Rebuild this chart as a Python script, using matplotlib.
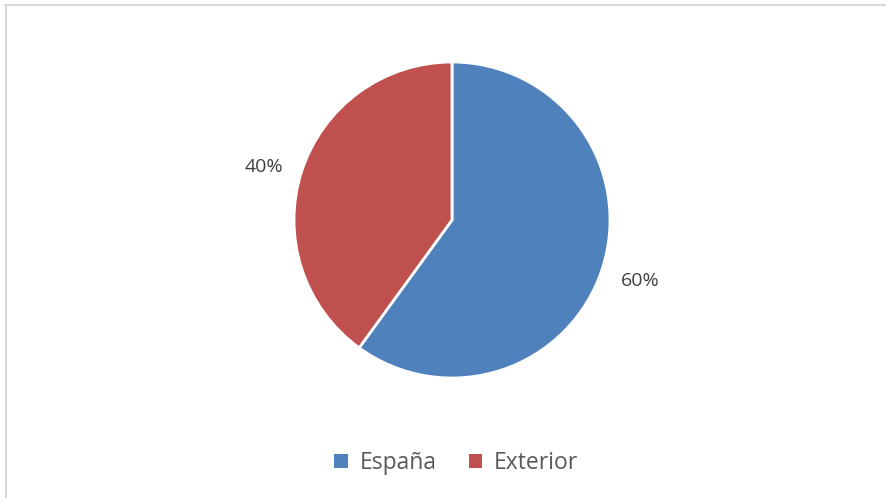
import matplotlib.pyplot as plt
from matplotlib.lines import Line2D
from matplotlib.patches import Patch

labels = ['España', 'Exterior']
values = [60, 40]
colors = ['#4F81BD', '#C0504D']

plt.rcParams['font.family'] = ['Open Sans', 'DejaVu Sans']

fig = plt.figure(figsize=(8.86, 4.98), dpi=100)

# light grey frame (only top and left edges are visible in the crop)
fig.add_artist(Line2D([5 / 886, 1], [1 - 5 / 498, 1 - 5 / 498], color='#D9D9D9', lw=1.5))
fig.add_artist(Line2D([6 / 886, 6 / 886], [0, 1 - 5 / 498], color='#D9D9D9', lw=1.5))

ax = fig.add_axes([294 / 886, 120 / 498, 316 / 886, 316 / 498])
wedges, texts, autotexts = ax.pie(
    values, colors=colors, startangle=90, counterclock=False,
    autopct='%1.0f%%', pctdistance=1.25,
    wedgeprops=dict(edgecolor='white', linewidth=2),
    textprops=dict(color='#404040', fontsize=14))
# Excel-style label placement: nudge the left label a bit lower
x, y = autotexts[1].get_position()
autotexts[1].set_position((x, y - 0.05))
ax.set_xlim(-1, 1)
ax.set_ylim(-1, 1)
ax.set_aspect('auto')

handles = [Patch(facecolor=c, edgecolor='none') for c in colors]
fig.legend(handles, labels, loc='center', bbox_to_anchor=(0.515, 1 - 463 / 498),
           ncol=2, frameon=False, fontsize=16.5, handlelength=0.6, handleheight=0.6,
           handletextpad=0.5, columnspacing=1.4, labelcolor='#595959')

fig.savefig('out.png', dpi=100)
